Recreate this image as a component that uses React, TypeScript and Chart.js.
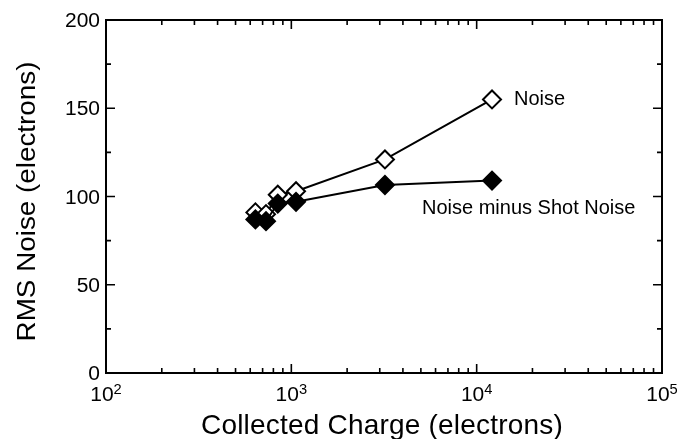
import { useEffect, useRef } from "react";
import { Chart, registerables } from "chart.js";

Chart.register(...registerables);

// Collected charge (electrons) for each measurement
const collectedCharge = [640, 730, 845, 1060, 3200, 12100];
// Total RMS noise (electrons)
const noise = [91, 90, 101, 103, 121, 155];
// RMS noise with the shot-noise contribution removed (electrons)
const noiseMinusShot = [87, 86, 96, 97, 106.5, 109];

const yMajorTicks = [0, 50, 100, 150, 200];
const yMinorTicks = [25, 75, 125, 175];
const xDecades = [2, 3, 4, 5];

const FONT = '"Liberation Sans", Arial, Helvetica, sans-serif';

// Draws text widened by sx along its own direction; align is handled here.
function textScaled(
  ctx: CanvasRenderingContext2D,
  text: string,
  x: number,
  y: number,
  font: string,
  sx: number,
  align: "left" | "center" | "right"
) {
  ctx.save();
  ctx.font = font;
  ctx.textAlign = "left";
  const w = ctx.measureText(text).width * sx;
  const left = align === "left" ? x : align === "center" ? x - w / 2 : x - w;
  ctx.translate(left, y);
  ctx.scale(sx, 1);
  ctx.fillText(text, 0, 0);
  ctx.restore();
  return w;
}

const axesPlugin = {
  id: "axesFrame",
  beforeDatasetsDraw(chart: any) {
    const { ctx, chartArea: a, scales } = chart;
    const x = scales.x;
    const y = scales.y;
    ctx.save();
    ctx.strokeStyle = "#000";
    ctx.lineWidth = 2;
    ctx.strokeRect(a.left, a.top, a.right - a.left, a.bottom - a.top);

    ctx.lineWidth = 1.6;
    ctx.beginPath();
    const yTick = (v: number, len: number) => {
      const py = y.getPixelForValue(v);
      ctx.moveTo(a.left, py);
      ctx.lineTo(a.left + len, py);
      ctx.moveTo(a.right, py);
      ctx.lineTo(a.right - len, py);
    };
    yMajorTicks.forEach((v) => yTick(v, 9));
    yMinorTicks.forEach((v) => yTick(v, 5));

    for (let i = 0; i < xDecades.length - 1; i++) {
      const base = Math.pow(10, xDecades[i]);
      for (let m = 1; m <= 9; m++) {
        const v = m * base;
        if (v <= x.min || v >= x.max) continue;
        const px = x.getPixelForValue(v);
        const len = m === 1 ? 9 : 5;
        ctx.moveTo(px, a.bottom);
        ctx.lineTo(px, a.bottom - len);
        ctx.moveTo(px, a.top);
        ctx.lineTo(px, a.top + len);
      }
    }
    ctx.stroke();
    ctx.restore();
  },
  afterDraw(chart: any) {
    const { ctx, chartArea: a, scales } = chart;
    const x = scales.x;
    const y = scales.y;
    const SX = 1.05;
    ctx.save();
    ctx.fillStyle = "#000";

    // y tick labels
    ctx.textBaseline = "alphabetic";
    yMajorTicks.forEach((v) => {
      textScaled(ctx, String(v), a.left - 6, y.getPixelForValue(v) + 7, `20px ${FONT}`, SX, "right");
    });

    // x tick labels: 10 with a raised exponent
    xDecades.forEach((d) => {
      const px = x.getPixelForValue(Math.pow(10, d));
      ctx.font = `20px ${FONT}`;
      const wBase = ctx.measureText("10").width * SX;
      ctx.font = `14px ${FONT}`;
      const wExp = ctx.measureText(String(d)).width * SX;
      const left = px - (wBase + wExp) / 2;
      textScaled(ctx, "10", left, a.bottom + 28, `20px ${FONT}`, SX, "left");
      textScaled(ctx, String(d), left + wBase, a.bottom + 21, `14px ${FONT}`, SX, "left");
    });

    // axis titles
    ctx.font = `28px ${FONT}`;
    ctx.textAlign = "center";
    ctx.textBaseline = "alphabetic";
    (ctx as any).letterSpacing = "0.2px";
    ctx.fillText("Collected Charge (electrons)", (a.left + a.right) / 2 - 2, a.bottom + 61);
    (ctx as any).letterSpacing = "0px";

    ctx.save();
    ctx.translate(28, (a.top + a.bottom) / 2 + 5);
    ctx.rotate(-Math.PI / 2);
    ctx.textBaseline = "middle";
    textScaled(ctx, "RMS Noise (electrons)", 0, 0, `26px ${FONT}`, 1.07, "center");
    ctx.restore();

    // series labels next to the last points
    const last = collectedCharge.length - 1;
    const lx = x.getPixelForValue(collectedCharge[last]);
    ctx.textAlign = "left";
    ctx.textBaseline = "middle";
    ctx.font = `20px ${FONT}`;
    ctx.fillText("Noise", lx + 22, y.getPixelForValue(noise[last]));
    ctx.fillText(
      "Noise minus Shot Noise",
      lx - 70,
      y.getPixelForValue(noiseMinusShot[last]) + 28
    );
    ctx.restore();
  },
};

export default function App() {
  const canvasRef = useRef<HTMLCanvasElement | null>(null);

  useEffect(() => {
    const canvas = canvasRef.current;
    if (!canvas) return;
    const chart = new Chart(canvas, {
      type: "line",
      data: {
        datasets: [
          {
            label: "Noise",
            data: collectedCharge.map((c, i) => ({ x: c, y: noise[i] })),
            borderColor: "#000",
            borderWidth: 2,
            pointStyle: "rectRot",
            pointRadius: 9,
            pointBorderWidth: 2,
            pointBackgroundColor: "#fff",
            pointBorderColor: "#000",
            order: 2,
          },
          {
            label: "Noise minus Shot Noise",
            data: collectedCharge.map((c, i) => ({ x: c, y: noiseMinusShot[i] })),
            borderColor: "#000",
            borderWidth: 2,
            pointStyle: "rectRot",
            pointRadius: 9,
            pointBorderWidth: 2,
            pointBackgroundColor: "#000",
            pointBorderColor: "#000",
            order: 1,
          },
        ],
      },
      options: {
        responsive: false,
        animation: false,
        layout: { padding: { left: 106, right: 16, top: 20, bottom: 66 } },
        plugins: {
          legend: { display: false },
          tooltip: { enabled: false },
        },
        scales: {
          x: { type: "logarithmic", min: 100, max: 100000, display: false },
          y: { type: "linear", min: 0, max: 200, display: false },
        },
      },
      plugins: [axesPlugin],
    });
    return () => chart.destroy();
  }, []);

  return (
    <div
      style={{
        position: "absolute",
        left: 0,
        top: 0,
        width: 678,
        height: 439,
        background: "#fff",
      }}
    >
      <canvas ref={canvasRef} width={678} height={439} style={{ display: "block" }} />
    </div>
  );
}
